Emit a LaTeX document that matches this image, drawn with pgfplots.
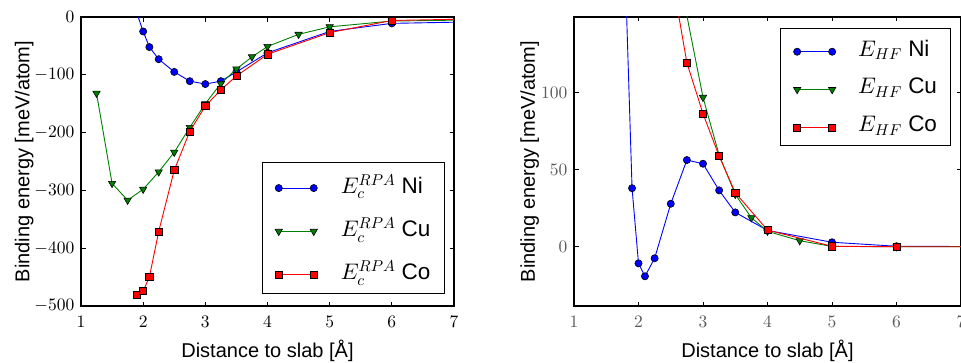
\documentclass[border=0pt]{standalone}
\usepackage[no-math]{fontspec}
\setmainfont{Liberation Sans}
\DeclareFontShape{OML}{cmm}{m}{it}{<->cmmi10}{\skewchar\font'177}
\DeclareFontShape{OMS}{cmsy}{m}{n}{<->cmsy10}{\skewchar\font'60}
\DeclareFontShape{OT1}{cmr}{m}{n}{<->cmr10}{}
\usepackage{pgfplots}
\pgfplotsset{compat=1.18}
\definecolor{mplgreen}{RGB}{0,128,0}
\newcommand{\lbfont}{\fontsize{20}{24}\selectfont}
\pgfplotsset{
  mystyle/.style={
    scale only axis, anchor=south west, height=289pt,
    xmin=1, xmax=7, xtick={1,2,3,4,5,6,7},
    axis line style={line width=1.4pt},
    tick style={line width=0.8pt, black},
    major tick length=4.5pt,
    tick align=inside,
    xtick pos=both, ytick pos=both,
    clip marker paths=true,
    tick label style={font=\fontsize{17.5}{21}\selectfont},
    xticklabel style={anchor=north, inner sep=0pt, yshift=-10.5pt},
    yticklabel style={anchor=east, inner sep=0pt, xshift=-6.5pt},
    every axis x label/.style={at={(axis description cs:0.5,-0.1765)}, anchor=base, font=\lbfont},
  },
  ni/.style={blue, line width=0.9pt, mark=*, mark size=3.6pt, mark options={fill=blue, draw=black, line width=0.6pt}},
  cu/.style={mplgreen, line width=0.9pt, mark=triangle*, mark size=4.2pt, mark options={rotate=180, fill=mplgreen, draw=black, line width=0.6pt}},
  co/.style={red, line width=0.9pt, mark=square*, mark size=3.6pt, mark options={fill=red, draw=black, line width=0.6pt}},
}
\begin{document}
\begin{tikzpicture}
\useasboundingbox (0,0) rectangle (961pt,362pt);
\clip (0,0) rectangle (961pt,362pt);
\begin{axis}[mystyle, at={(81pt,56pt)}, width=373pt,
  ymin=-500, ymax=0, ytick={-500,-400,-300,-200,-100,0},
  xlabel={Distance to slab [Å]},
  ylabel={Binding energy [meV/atom]},
  every axis y label/.style={at={(axis description cs:-0.1386,0.5)}, rotate=90, anchor=base, font=\lbfont},
  legend image code/.code={\draw[mark repeat=2,mark phase=1,#1,yshift=-3pt] plot coordinates {(0pt,0pt) (17.5pt,0pt) (35pt,0pt)};},
  legend style={at={(axis description cs:0.486,0.497)}, anchor=north west, draw=black, line width=0.9pt,
    font=\fontsize{22.5}{27}\selectfont, inner xsep=12.4pt, inner ysep=10.4pt, row sep=19.6pt, column sep=23.4pt,
    nodes={inner sep=0pt, text height=20pt, text depth=3.7pt}},
]
\addplot[ni] coordinates {(1.75,53) (2.0,-25) (2.1,-52) (2.25,-73) (2.5,-95) (2.75,-111) (3.0,-116) (3.25,-111) (3.5,-95) (4.0,-62) (5.0,-25) (6.0,-11) (8.0,-7)};
\addlegendentry{\makebox[90.9pt][l]{$E_c^{RPA}$ Ni}}
\addplot[cu] coordinates {(1.25,-132) (1.5,-288) (1.75,-317) (2.0,-298) (2.25,-268) (2.5,-234) (2.75,-191) (3.0,-150) (3.25,-115) (3.5,-90) (3.75,-69) (4.0,-51) (4.5,-30) (5.0,-17) (6.0,-7) (8.0,-4)};
\addlegendentry{\makebox[90.9pt][l]{$E_c^{RPA}$ Cu}}
\addplot[co] coordinates {(1.9,-480) (2.0,-474) (2.1,-450) (2.25,-371) (2.5,-265) (2.75,-198) (3.0,-154) (3.25,-126) (3.5,-102) (4.0,-64.5) (5.0,-27) (6.0,-6) (8.0,-2)};
\addlegendentry{\makebox[90.9pt][l]{$E_c^{RPA}$ Co}}
\end{axis}
\begin{axis}[mystyle, at={(574pt,56pt)}, width=387pt,
  ymin=-38.5, ymax=149.2, ytick={0,50,100},
  yticklabel style={black!65},
  xticklabel style={black!65},
  xlabel={Distance to slab [Å]},
  ylabel={Binding energy [meV/atom]},
  every axis y label/.style={at={(axis description cs:-0.1008,0.5)}, rotate=90, anchor=base, font=\lbfont},
  legend image code/.code={\draw[mark repeat=2,mark phase=1,#1,yshift=-2.5pt] plot coordinates {(0pt,0pt) (17.5pt,0pt) (35pt,0pt)};},
  legend style={at={(axis description cs:0.533,0.961)}, anchor=north west, draw=black, line width=0.9pt,
    font=\fontsize{22.5}{27}\selectfont, inner xsep=12.8pt, inner ysep=11.4pt, row sep=19.65pt, column sep=22.4pt,
    nodes={inner sep=0pt, text height=16pt, text depth=2.2pt}},
]
\addplot[ni] coordinates {(1.75,238) (1.9,38) (2.0,-10.8) (2.1,-19.2) (2.25,-7.5) (2.5,27.9) (2.75,56.3) (3.0,53.9) (3.25,36.6) (3.5,22.3) (4.0,10.6) (5.0,2.9) (6.0,0.3) (8.0,0)};
\addlegendentry{\makebox[79.5pt][l]{$E_{HF}$ Ni}}
\addplot[cu] coordinates {(2.5,230) (2.75,150) (3.0,97) (3.25,59.5) (3.5,34) (3.75,18.8) (4.0,10) (4.5,3.9) (5.0,0.2) (6.0,0) (8.0,0)};
\addlegendentry{\makebox[79.5pt][l]{$E_{HF}$ Cu}}
\addplot[co] coordinates {(2.5,180) (2.75,119.5) (3.0,86.4) (3.25,58.9) (3.5,35.1) (4.0,10.8) (5.0,0.3) (6.0,0) (8.0,0)};
\addlegendentry{\makebox[79.5pt][l]{$E_{HF}$ Co}}
\end{axis}
\end{tikzpicture}
\end{document}
